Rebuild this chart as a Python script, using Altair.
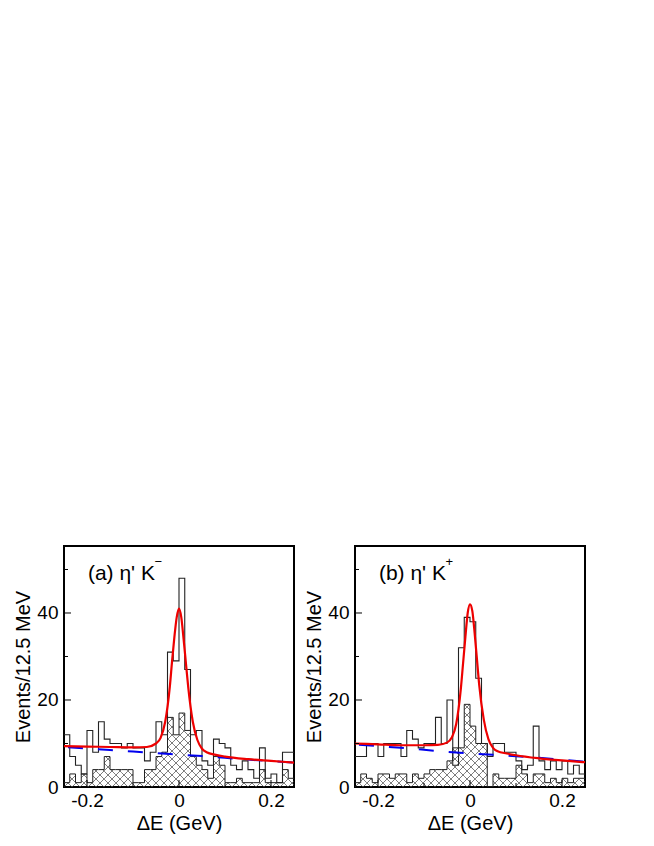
import altair as alt
import pandas as pd

# ---------------- data ----------------
X_MIN, X_MAX, BIN_W = -0.25, 0.25, 0.0125
Y_MAX = 55.4

a_total = [12, 7, 5, 3, 13, 8, 15, 11, 10, 10, 9, 10, 9, 9, 6, 8, 15, 12, 31, 29,
           48, 27, 12, 13, 6, 5, 11, 10, 9, 5, 4, 6, 4, 2, 9, 2, 3, 1, 8, 8]
a_hatch = [1, 3, 1, 3, 1, 4, 4, 7, 4, 4, 4, 4, 1, 1, 4, 4, 7, 8, 16, 12,
           17, 13, 7, 5, 4, 2, 7, 5, 1, 1, 2, 1, 1, 1, 4, 1, 1, 1, 4, 2]
b_total = [7, 7, 10, 10, 7, 10, 10, 10, 7, 13, 11, 9, 10, 10, 16, 10, 20, 5, 32, 39,
           38, 25, 10, 7, 10, 10, 8, 8, 6, 4, 5, 14, 6, 4, 6, 4, 6, 3, 5, 3]
b_hatch = [1, 3, 2, 1, 3, 3, 2, 3, 3, 1, 3, 2, 3, 4, 4, 4, 6, 9, 9, 19,
           14, 10, 10, 0, 3, 2, 2, 2, 5, 3, 1, 3, 3, 1, 2, 1, 2, 1, 2, 2]

a_fit_x = [-0.25, -0.2, -0.15, -0.1, -0.07, -0.05, -0.04, -0.03, -0.02, -0.015, -0.01, -0.005,
           0.0, 0.005, 0.01, 0.015, 0.02, 0.03, 0.04, 0.05, 0.06, 0.08, 0.1, 0.15, 0.2, 0.25]
a_fit_y = [9.4, 9.3, 9.2, 9.1, 9.2, 10.0, 11.3, 15.0, 23.0, 29.0, 34.5, 39.0,
           41.0, 39.0, 34.0, 28.5, 23.0, 15.0, 10.8, 8.8, 8.0, 7.4, 7.0, 6.4, 6.0, 5.6]
a_bkg_x = [-0.25, -0.15, -0.05, 0.05, 0.15, 0.25]
a_bkg_y = [9.2, 8.5, 7.8, 7.1, 6.3, 5.6]

b_fit_x = [-0.25, -0.2, -0.15, -0.1, -0.07, -0.05, -0.04, -0.03, -0.02, -0.015, -0.01, -0.005,
           0.0, 0.005, 0.01, 0.015, 0.02, 0.03, 0.04, 0.05, 0.06, 0.08, 0.1, 0.15, 0.2, 0.25]
b_fit_y = [10.0, 9.8, 9.6, 9.6, 9.7, 10.2, 11.3, 14.5, 22.5, 28.5, 34.5, 40.0,
           42.0, 40.5, 35.5, 29.5, 23.5, 15.5, 11.0, 9.0, 8.2, 7.7, 7.3, 6.6, 6.1, 5.7]
b_bkg_x = [-0.25, -0.15, -0.05, 0.05, 0.15, 0.25]
b_bkg_y = [9.8, 9.0, 8.1, 7.4, 6.7, 5.8]

y_major = [0, 20, 40]
y_minor = [10, 30, 50]
x_major = [-0.2, 0.0, 0.2]
x_minor = [-0.1, 0.1]

W, H = 230, 241
FONT = "Liberation Sans"
HATCH_SPACING = 8.0  # px between crossing hatch lines (style)


def step_table(vals):
    xs = [X_MIN + i * BIN_W for i in range(len(vals))] + [X_MAX]
    ys = list(vals) + [vals[-1]]
    return pd.DataFrame({"x": xs, "y": ys})


def hatch_table(vals):
    # global 45-degree cross-hatch clipped to every bin of the histogram
    kx = W / (X_MAX - X_MIN)
    ky = H / Y_MAX
    s = HATCH_SPACING
    rows = []
    n_lines = int((W + H) / s) + 2
    for i, h in enumerate(vals):
        if h <= 0:
            continue
        X0 = i * BIN_W * kx
        X1 = (i + 1) * BIN_W * kx
        Hh = h * ky
        for k in range(-n_lines, n_lines + 1):
            c = k * s
            # '/' line: y = x + c
            xa, xb = max(X0, -c), min(X1, Hh - c)
            if xb - xa > 1e-6:
                rows.append({"x": X_MIN + xa / kx, "x2": X_MIN + xb / kx,
                             "y": (xa + c) / ky, "y2": (xb + c) / ky})
            # '\' line: y = c - x
            xa, xb = max(X0, c - Hh), min(X1, c)
            if xb - xa > 1e-6:
                rows.append({"x": X_MIN + xa / kx, "x2": X_MIN + xb / kx,
                             "y": (c - xa) / ky, "y2": (c - xb) / ky})
    return pd.DataFrame(rows)


xs = alt.Scale(domain=[X_MIN, X_MAX], nice=False, zero=False)
ys = alt.Scale(domain=[0, Y_MAX], nice=False, zero=False)

x_axis = alt.Axis(values=x_major, title="ΔE (GeV)", grid=False, ticks=False, domain=False,
                  labelExpr="datum.value == 0 ? '0' : (datum.value > 0 ? '0.2' : '-0.2')",
                  labelPadding=4, titlePadding=3, labelFlush=False)
y_axis = alt.Axis(values=y_major, title="Events/12.5 MeV", grid=False, ticks=False, domain=False,
                  labelPadding=6, titlePadding=3, labelFlush=False)


def X(f):
    return alt.X(f, scale=xs, axis=x_axis)


def Y(f):
    return alt.Y(f, scale=ys, axis=y_axis)


def panel(total, hatch, fx, fy, bx, by, label, sup, sup_x):
    hatch_lines = alt.Chart(hatch_table(hatch)).mark_rule(
        color="#444444", strokeWidth=0.7, clip=True
    ).encode(x=X("x:Q"), x2="x2:Q", y=Y("y:Q"), y2="y2:Q")

    hatch_step = alt.Chart(step_table(hatch)).mark_line(
        interpolate="step-after", color="#222222", strokeWidth=1, clip=True
    ).encode(x=X("x:Q"), y=Y("y:Q"))

    total_step = alt.Chart(step_table(total)).mark_line(
        interpolate="step-after", color="#222222", strokeWidth=1.1, clip=True
    ).encode(x=X("x:Q"), y=Y("y:Q"))

    bkg = alt.Chart(pd.DataFrame({"x": bx, "y": by})).mark_line(
        color="#0000ee", strokeWidth=2, strokeDash=[15, 15], strokeDashOffset=26,
        interpolate="monotone", clip=True
    ).encode(x=X("x:Q"), y=Y("y:Q"))

    fit = alt.Chart(pd.DataFrame({"x": fx, "y": fy})).mark_line(
        color="#ee0000", strokeWidth=2.2, interpolate="monotone", clip=True
    ).encode(x=X("x:Q"), y=Y("y:Q"))

    ymaj = alt.Chart(pd.DataFrame({"v": y_major})).mark_rule(color="black", strokeWidth=1).encode(
        y=Y("v:Q"), x=alt.value(0), x2=alt.value(7))
    ymin = alt.Chart(pd.DataFrame({"v": y_minor})).mark_rule(color="black", strokeWidth=1).encode(
        y=Y("v:Q"), x=alt.value(0), x2=alt.value(4))
    xmaj = alt.Chart(pd.DataFrame({"v": x_major})).mark_rule(color="black", strokeWidth=1).encode(
        x=X("v:Q"), y=alt.value(H), y2=alt.value(H - 7))
    xmin = alt.Chart(pd.DataFrame({"v": x_minor})).mark_rule(color="black", strokeWidth=1).encode(
        x=X("v:Q"), y=alt.value(H), y2=alt.value(H - 4))

    lab = alt.Chart(pd.DataFrame({"x": [-0.198], "y": [47.6], "t": [label]})).mark_text(
        align="left", baseline="alphabetic", font=FONT, fontSize=21, color="black"
    ).encode(x=X("x:Q"), y=Y("y:Q"), text="t:N")
    sup_t = alt.Chart(pd.DataFrame({"x": [sup_x], "y": [50.8], "t": [sup]})).mark_text(
        align="left", baseline="alphabetic", font=FONT, fontSize=13, color="black"
    ).encode(x=X("x:Q"), y=Y("y:Q"), text="t:N")

    return alt.layer(total_step, hatch_lines, hatch_step, bkg, fit,
                     ymaj, ymin, xmaj, xmin, lab, sup_t).properties(width=W, height=H)


pa = panel(a_total, a_hatch, a_fit_x, a_fit_y, a_bkg_x, a_bkg_y, "(a) η' K", "−", -0.053)
pb = panel(b_total, b_hatch, b_fit_x, b_fit_y, b_bkg_x, b_bkg_y, "(b) η' K", "+", -0.053)

chart = alt.hconcat(pa, pb, spacing=8).properties(
    padding={"left": 4, "top": 537, "right": 0, "bottom": 0}
).configure_view(
    stroke="black", strokeWidth=2
).configure_axis(
    labelFont=FONT, titleFont=FONT, labelFontSize=19, titleFontSize=20,
    titleFontWeight="normal", labelColor="black", titleColor="black"
)

chart.save("out.html", embed_options={"renderer": "svg", "actions": False})
